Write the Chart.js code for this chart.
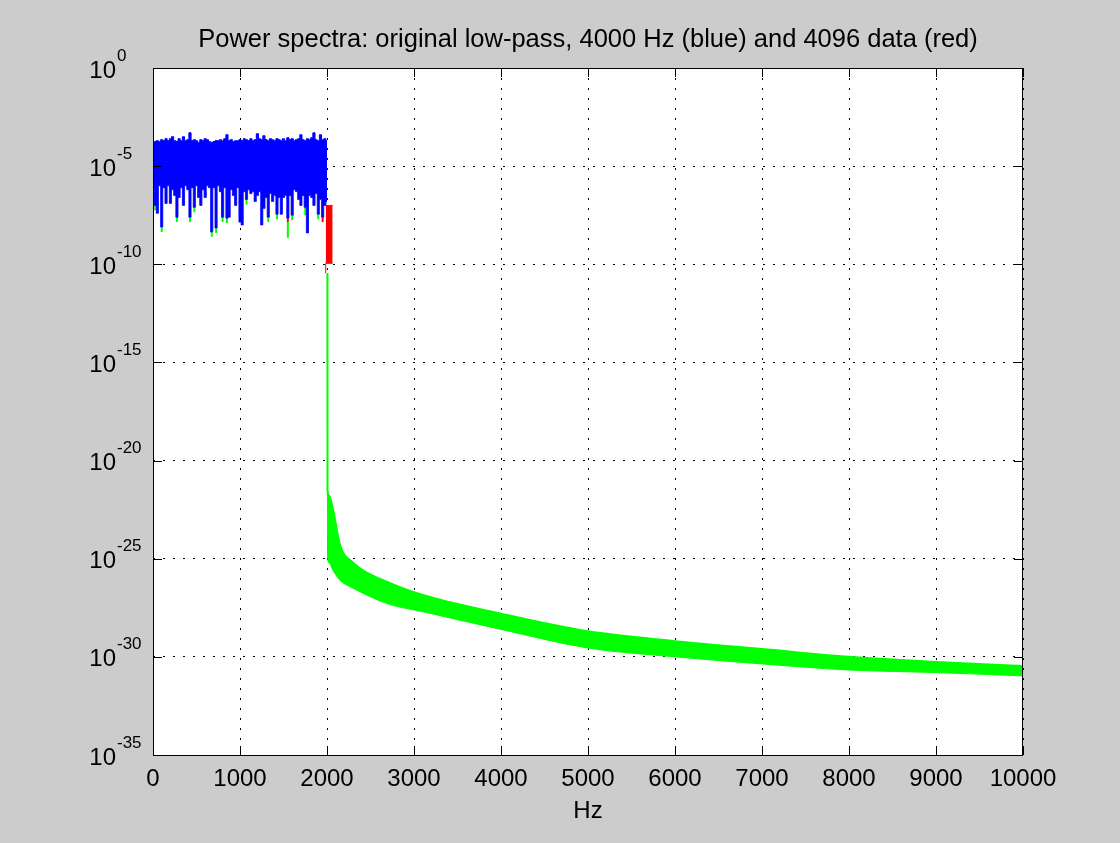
<!DOCTYPE html>
<html lang="en">
<head>
<meta charset="UTF-8">
<title>Power spectra</title>
<script src="https://cdn.jsdelivr.net/npm/chart.js"></script>
<style>
    html, body { margin: 0; padding: 0; background: #cccccc; }
    #wrap { width: 1120px; height: 843px; }
</style>
</head>
<body>
<div id="wrap"><canvas id="spec" width="1120" height="843"></canvas></div>
<script>
const titleText = 'Power spectra: original low-pass, 4000 Hz (blue) and 4096 data (red)';
const xLabel = 'Hz';
const xTicks = [0, 1000, 2000, 3000, 4000, 5000, 6000, 7000, 8000, 9000, 10000];
const yTickExps = [-35, -30, -25, -20, -15, -10, -5, 0];

// original low-pass spectrum (blue), upper / lower edge per 25 Hz, as log10 values
const blueHz = [0, 25, 50, 75, 100, 125, 150, 175, 200, 225, 250, 275, 300, 325, 350, 375, 400, 425, 450, 475,
    500, 525, 550, 575, 600, 625, 650, 675, 700, 725, 750, 775, 800, 825, 850, 875, 900, 925, 950, 975,
    1000, 1025, 1050, 1075, 1100, 1125, 1150, 1175, 1200, 1225, 1250, 1275, 1300, 1325, 1350, 1375, 1400, 1425, 1450, 1475,
    1500, 1525, 1550, 1575, 1600, 1625, 1650, 1675, 1700, 1725, 1750, 1775, 1800, 1825, 1850, 1875, 1900, 1925, 1950, 1975, 2000];
const blueTopExp = [-3.8, -3.75, -3.7, -3.75, -3.65, -3.7, -3.6, -3.7, -3.6, -3.5,
    -3.7, -3.75, -3.6, -3.7, -3.5, -3.7, -3.65, -3.3, -3.7, -3.65,
    -3.7, -3.8, -3.65, -3.7, -3.6, -3.65, -3.75, -3.8, -3.75, -3.7,
    -3.7, -3.65, -3.7, -3.6, -3.4, -3.7, -3.65, -3.75, -3.7, -3.7,
    -3.65, -3.7, -3.6, -3.65, -3.7, -3.6, -3.7, -3.65, -3.35, -3.6,
    -3.65, -3.45, -3.65, -3.7, -3.6, -3.65, -3.7, -3.6, -3.65, -3.7,
    -3.6, -3.7, -3.55, -3.65, -3.6, -3.7, -3.65, -3.6, -3.4, -3.65,
    -3.7, -3.6, -3.65, -3.55, -3.3, -3.65, -3.7, -3.4, -3.65, -3.6, -3.7];
const blueLowExp = [-6.1, -7.0, -7.4, -6.0, -8.1, -6.1, -6.9, -6.0, -6.9, -6.2,
    -6.5, -7.6, -6.6, -6.1, -7.0, -6.0, -6.2, -7.6, -6.1, -7.1,
    -6.0, -6.6, -7.0, -6.2, -6.6, -6.0, -6.1, -8.35, -6.1, -8.15,
    -6.0, -6.3, -7.6, -6.1, -7.65, -7.6, -6.2, -6.5, -7.0, -6.1,
    -7.85, -8.0, -6.3, -6.7, -6.2, -6.4, -6.3, -6.8, -6.5, -6.3,
    -8.0, -7.15, -6.6, -7.6, -6.4, -6.8, -6.5, -7.45, -6.6, -7.45,
    -6.6, -6.5, -7.65, -6.5, -7.5, -6.2, -6.3, -6.7, -7.0, -6.5,
    -7.1, -8.4, -6.5, -6.6, -7.0, -6.4, -7.45, -6.7, -7.6, -7.0, -6.8];

// 4096 data spectrum (red) beyond the blue, and its tails showing under blue dips
const redHz = [1985, 2030, 2065];
const redTopExp = [-7.0, -7.0, -7.0];
const redLowExp = [-10.45, -9.95, -9.95];
const redTailHz = [1550, 1950];
const redTailTop = [-7.65, -7.6];
const redTailLow = [-7.85, -7.85];

// green spectrum: drop at 2000 Hz and the decaying band
const greenHz = [2005, 2006, 2020, 2070, 2150, 2300, 2700, 3100, 4000, 5000, 6000, 7000, 8000, 9000, 10000];
const greenTopExp = [-10.45, -21.5, -21.75, -22.5, -24.3, -25.2, -26.2, -26.85, -27.8, -28.7, -29.2, -29.6, -30.0, -30.26, -30.47];
const greenLowExp = [-10.45, -24.9, -25.2, -25.6, -26.1, -26.5, -27.3, -27.7, -28.6, -29.55, -30.0, -30.36, -30.67, -30.8, -30.97];
const greenTailHz = [25, 100, 275, 425, 475, 675, 725, 800, 850, 1075, 1325, 1425, 1550, 1600, 1750, 1900];
const greenTailTop = [-7.0, -8.1, -7.6, -7.6, -7.1, -8.35, -8.15, -7.6, -7.65, -6.7, -7.6, -7.45, -7.85, -7.5, -7.1, -7.45];
const greenTailLow = [-7.25, -8.35, -7.85, -7.85, -7.35, -8.6, -8.4, -7.85, -7.9, -6.95, -7.85, -7.7, -8.65, -7.75, -7.5, -7.7];

const FONT = '"Liberation Sans", Arial, Helvetica, sans-serif';
const BLUE = '#0000ff', RED = '#ff0000', GREEN = '#00ff00';

const pts = (hz, ex) => hz.map((f, i) => ({ x: f, y: Math.pow(10, ex[i]) }));
const tails = (hz, top, low) => hz.flatMap((f, i) => [
    { x: f, y: Math.pow(10, top[i]) }, { x: f, y: Math.pow(10, low[i]) }, { x: f, y: null }
]);

const figure = {
    id: 'figure',
    beforeDraw(chart) {
        const { ctx, chartArea: a } = chart;
        ctx.save();
        ctx.fillStyle = '#cccccc';
        ctx.fillRect(0, 0, chart.width, chart.height);
        ctx.fillStyle = '#ffffff';
        ctx.fillRect(a.left, a.top, a.right - a.left, a.bottom - a.top);
        ctx.restore();
    },
    afterDraw(chart) {
        const { ctx, chartArea: a, scales: { x, y } } = chart;
        ctx.save();
        ctx.setLineDash([]);
        ctx.strokeStyle = '#000';
        ctx.lineWidth = 1;
        ctx.strokeRect(a.left + 0.5, a.top + 0.5, a.right - a.left - 1, a.bottom - a.top);

        // ticks pointing inward on all four sides
        const len = 9;
        ctx.beginPath();
        x.ticks.forEach(t => {
            const px = Math.round(x.getPixelForValue(t.value)) + 0.5;
            ctx.moveTo(px, a.bottom); ctx.lineTo(px, a.bottom - len);
            ctx.moveTo(px, a.top); ctx.lineTo(px, a.top + len);
        });
        y.ticks.forEach(t => {
            const py = Math.round(y.getPixelForValue(t.value)) + 0.5;
            ctx.moveTo(a.left, py); ctx.lineTo(a.left + len, py);
            ctx.moveTo(a.right, py); ctx.lineTo(a.right - len, py);
        });
        ctx.stroke();

        ctx.fillStyle = '#000';
        ctx.textBaseline = 'alphabetic';

        // x tick labels
        ctx.font = '24px ' + FONT;
        ctx.textAlign = 'center';
        x.ticks.forEach(t => ctx.fillText(String(t.value), x.getPixelForValue(t.value), a.bottom + 31));

        // y tick labels as 10 with a raised exponent
        y.ticks.forEach(t => {
            const py = y.getPixelForValue(t.value);
            const e = Math.round(Math.log10(t.value));
            ctx.font = '24px ' + FONT;
            ctx.textAlign = 'right';
            ctx.fillText('10', a.left - 37, py + 9.5);
            ctx.font = '17px ' + FONT;
            ctx.textAlign = 'left';
            ctx.fillText(String(e), a.left - 36, py - 7.5);
        });

        // title and axis label
        const cx = (a.left + a.right) / 2;
        ctx.textAlign = 'center';
        ctx.font = '25.5px ' + FONT;
        ctx.fillText(titleText, cx, 47);
        ctx.font = '24px ' + FONT;
        ctx.fillText(xLabel, cx, a.bottom + 63);
        ctx.restore();
    }
};

const gridOpts = { color: '#000', lineWidth: 1, drawTicks: false };

new Chart(document.getElementById('spec'), {
    type: 'line',
    data: {
        datasets: [
            { data: pts(blueHz, blueTopExp), borderColor: BLUE, borderWidth: 1, stepped: 'middle', fill: false },
            { data: pts(blueHz, blueLowExp), borderColor: BLUE, backgroundColor: BLUE, borderWidth: 0.8, stepped: 'middle', fill: '-1' },
            { data: tails(redTailHz, redTailTop, redTailLow), borderColor: RED, borderWidth: 2, spanGaps: false },
            { data: tails(greenTailHz, greenTailTop, greenTailLow), borderColor: GREEN, borderWidth: 2, spanGaps: false },
            { data: pts(redHz, redTopExp), borderColor: RED, borderWidth: 1, stepped: 'after', fill: false },
            { data: pts(redHz, redLowExp), borderColor: RED, backgroundColor: RED, borderWidth: 1, stepped: 'after', fill: '-1' },
            { data: pts(greenHz, greenTopExp), borderColor: GREEN, borderWidth: 2, cubicInterpolationMode: 'monotone', fill: false },
            { data: pts(greenHz, greenLowExp), borderColor: GREEN, backgroundColor: GREEN, borderWidth: 1, cubicInterpolationMode: 'monotone', fill: '-1' }
        ]
    },
    options: {
        responsive: false,
        animation: false,
        events: [],
        layout: { autoPadding: false, padding: { left: 0, right: 97, top: 68, bottom: 0 } },
        elements: { point: { radius: 0 }, line: { tension: 0 } },
        plugins: { legend: { display: false }, tooltip: { enabled: false }, title: { display: false } },
        scales: {
            x: {
                type: 'linear', min: xTicks[0], max: xTicks[xTicks.length - 1],
                afterBuildTicks: s => { s.ticks = xTicks.map(v => ({ value: v })); },
                afterFit: s => { s.height = 88; },
                ticks: { display: false },
                grid: gridOpts,
                border: { display: false, dash: [2, 8] }
            },
            y: {
                type: 'logarithmic',
                min: Math.pow(10, yTickExps[0]), max: Math.pow(10, yTickExps[yTickExps.length - 1]),
                afterBuildTicks: s => { s.ticks = yTickExps.map(e => ({ value: Math.pow(10, e) })); },
                afterFit: s => { s.width = 153; },
                ticks: { display: false },
                grid: gridOpts,
                border: { display: false, dash: [2, 8] }
            }
        }
    },
    plugins: [figure]
});
</script>
</body>
</html>
